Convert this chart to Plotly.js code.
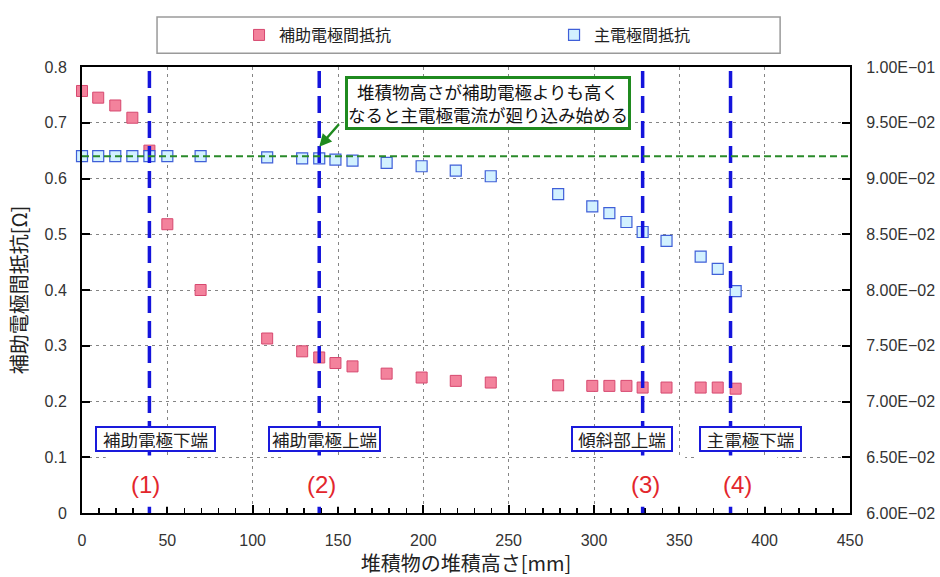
<!DOCTYPE html>
<html>
<head>
<meta charset="utf-8">
<script src="https://cdn.plot.ly/plotly-3.0.1.min.js"></script>
<style>
  html, body { margin: 0; padding: 0; background: #fff; }
  #chart { width: 940px; height: 577px; }
</style>
</head>
<body>
<div id="chart"></div>
<script>
// Deposit height [mm] at each measurement
const depositHeight = [0, 9.5, 19.5, 29.5, 39.5, 50, 69.5, 108.5, 129, 139, 148.5, 158.5,
  178.5, 199, 219, 239.5, 279, 299, 309, 319, 328.5, 342.5, 362.5, 372.5, 383];

// Resistance between auxiliary electrodes [Ω] (left axis)
const auxResistance = [0.757, 0.745, 0.731, 0.709, 0.650, 0.518, 0.400, 0.313, 0.290, 0.279,
  0.269, 0.263, 0.250, 0.243, 0.237, 0.234, 0.229, 0.228, 0.228, 0.228, 0.225, 0.225,
  0.225, 0.225, 0.223];

// Resistance between main electrodes [Ω] (right axis)
const mainResistance = [0.0920, 0.0920, 0.0920, 0.0920, 0.0920, 0.0920, 0.0920, 0.0919,
  0.0918, 0.0918, 0.0917, 0.0916, 0.0914, 0.0911, 0.0907, 0.0902, 0.0886, 0.0875,
  0.0869, 0.0861, 0.0852, 0.0844, 0.0830, 0.0819, 0.0799];

// Initial main-electrode resistance level (dashed green reference)
const mainBaseline = 0.0920;

// Structural boundaries along the deposit height
const boundaryHeight = [39.5, 139, 328.5, 380];
const boundaryName = ['補助電極下端', '補助電極上端', '傾斜部上端', '主電極下端'];
const boundaryTag = ['(1)', '(2)', '(3)', '(4)'];

// Axis tick values / labels
const xTicks = [0, 50, 100, 150, 200, 250, 300, 350, 400, 450];
const leftTicks = [0, 0.1, 0.2, 0.3, 0.4, 0.5, 0.6, 0.7, 0.8];
const rightTicks = [0.06, 0.065, 0.07, 0.075, 0.08, 0.085, 0.09, 0.095, 0.1];
const rightTickText = ['6.00E−02', '6.50E−02', '7.00E−02', '7.50E−02', '8.00E−02',
  '8.50E−02', '9.00E−02', '9.50E−02', '1.00E−01'];

const seriesNames = ['補助電極間抵抗', '主電極間抵抗'];
const calloutText = '堆積物高さが補助電極よりも高く<br>なると主電極電流が廻り込み始める';

const JP = '"Noto Sans CJK JP", "Noto Sans", sans-serif';
const NUM = '"Liberation Sans", Arial, sans-serif';

const traces = [
  {
    x: depositHeight, y: auxResistance, name: seriesNames[0],
    type: 'scatter', mode: 'markers', cliponaxis: false,
    marker: { symbol: 'square', size: 11, color: '#f3829c', line: { color: '#d6486f', width: 1 } }
  },
  {
    x: depositHeight, y: mainResistance, name: seriesNames[1], yaxis: 'y2',
    type: 'scatter', mode: 'markers', cliponaxis: false,
    marker: { symbol: 'square', size: 11, color: '#d2f1ff', line: { color: '#3f5fd8', width: 1.2 } }
  }
];

const shapes = [];
// dashed boundary lines
boundaryHeight.forEach(h => {
  shapes.push({
    type: 'line', xref: 'x', yref: 'paper', x0: h, x1: h, y0: 0, y1: 1,
    layer: 'above', line: { color: '#1414dc', width: 3.5, dash: '17px,8px' }
  });
});
// baseline of the main-electrode resistance
shapes.push({
  type: 'line', xref: 'paper', yref: 'y2', x0: 0, x1: 1, y0: mainBaseline, y1: mainBaseline,
  layer: 'above', line: { color: '#2a8a2a', width: 2, dash: '7px,4px' }
});
// white backing under the (n) tags
const tagX = [37.3, 140.4, 330, 384];
tagX.forEach(cx => {
  shapes.push({
    type: 'rect', xref: 'x', yref: 'y', x0: cx - 23.4, x1: cx + 23.4, y0: 0.011, y1: 0.103,
    layer: 'above', fillcolor: '#ffffff', line: { width: 0 }
  });
});
// legend frame
shapes.push({
  type: 'rect', xref: 'paper', yref: 'paper', x0: 0.0977, x1: 0.909, y0: 1.031, y1: 1.112,
  line: { color: '#9a9a9a', width: 1.5 }, fillcolor: 'rgba(0,0,0,0)'
});

const annotations = [];
const boxX = [43.2, 142.0, 316.4, 391.9];
const boxW = [113, 105, 94, 95];
boundaryName.forEach((t, i) => {
  annotations.push({
    x: boxX[i], y: 0.133, xref: 'x', yref: 'y', text: t, showarrow: false,
    width: boxW[i], height: 18,
    font: { family: JP, size: 17.5, color: '#222' },
    bgcolor: '#ffffff', bordercolor: '#1a1adb', borderwidth: 2, borderpad: 2
  });
});
boundaryTag.forEach((t, i) => {
  annotations.push({
    x: tagX[i], y: 0.051, xref: 'x', yref: 'y', text: t, showarrow: false,
    font: { family: NUM, size: 24, color: '#e3262c' }
  });
});
// callout box
annotations.push({
  x: 237.7, y: 0.736, xref: 'x', yref: 'y', text: calloutText, showarrow: false,
  font: { family: JP, size: 17.5, color: '#111' }, align: 'center',
  bgcolor: '#ffffff', bordercolor: '#1f8a1f', borderwidth: 3, borderpad: 0
});
// callout arrow pointing at the onset point
annotations.push({
  x: depositHeight[9], y: 0.657, xref: 'x', yref: 'y', text: '',
  showarrow: true, ax: 21, ay: -24, arrowcolor: '#1f8a1f', arrowwidth: 2.5,
  arrowhead: 2, arrowsize: 1, standoff: 0
});

const layout = {
  width: 940, height: 577,
  margin: { l: 82, r: 90, t: 67, b: 64 },
  paper_bgcolor: '#ffffff', plot_bgcolor: '#ffffff',
  font: { family: NUM, color: '#222' },
  showlegend: true,
  legend: {
    orientation: 'h', xref: 'container', yref: 'container',
    x: 0.2543, xanchor: 'left', y: 0.9393, yanchor: 'middle',
    entrywidth: 270, entrywidthmode: 'pixels', itemwidth: 30,
    font: { family: JP, size: 16, color: '#222' }, bgcolor: 'rgba(0,0,0,0)'
  },
  xaxis: {
    range: [0, 450], tickvals: xTicks, ticks: 'inside', ticklen: 8, tickwidth: 2, tickcolor: '#000',
    minor: { dtick: 10, ticks: 'inside', ticklen: 5, tickwidth: 1.5, tickcolor: '#000', showgrid: false },
    showline: true, linecolor: '#000', linewidth: 2, mirror: true,
    showgrid: true, gridcolor: '#858585', gridwidth: 1, griddash: '3px,4px',
    zeroline: false, ticklabelstandoff: 12,
    tickfont: { family: NUM, size: 16, color: '#333' },
    title: { text: '堆積物の堆積高さ[mm]', font: { family: JP, size: 20, color: '#222' }, standoff: 19 }
  },
  yaxis: {
    range: [0, 0.8], tickvals: leftTicks, ticks: 'inside', ticklen: 8, tickwidth: 2, tickcolor: '#000',
    showline: true, linecolor: '#000', linewidth: 2,
    showgrid: true, gridcolor: '#858585', gridwidth: 1, griddash: '3px,4px',
    zeroline: false, ticklabelstandoff: 10,
    tickfont: { family: NUM, size: 16, color: '#333' },
    title: { text: '補助電極間抵抗[Ω]', font: { family: JP, size: 20, color: '#222' }, standoff: 12 }
  },
  yaxis2: {
    range: [0.06, 0.1], overlaying: 'y', side: 'right', anchor: 'x',
    tickvals: rightTicks, ticktext: rightTickText,
    ticks: 'inside', ticklen: 8, tickwidth: 2, tickcolor: '#000',
    showline: true, linecolor: '#000', linewidth: 2,
    showgrid: false, zeroline: false, ticklabelstandoff: 11,
    tickfont: { family: NUM, size: 16, color: '#333' }
  },
  shapes: shapes,
  annotations: annotations
};

Plotly.newPlot('chart', traces, layout, { staticPlot: true, displayModeBar: false });
</script>
</body>
</html>
